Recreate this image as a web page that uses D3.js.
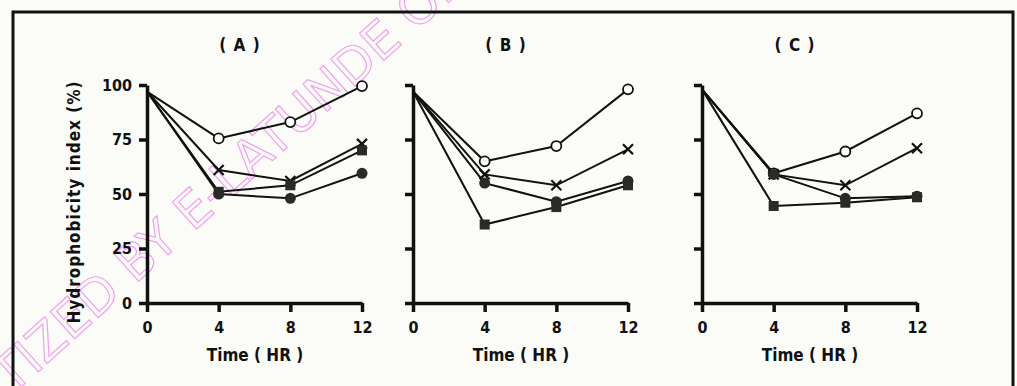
<!DOCTYPE html>
<html>
<head>
<meta charset="utf-8">
<script src="https://cdn.jsdelivr.net/npm/d3@7"></script>
<style>
  body { margin: 0; background: #fbfbf8; }
  text { font-family: "DejaVu Sans Condensed", "DejaVu Sans", sans-serif; font-weight: bold; fill: #111; }
</style>
</head>
<body>
<div id="chart"></div>
<script>
// time points (hours)
const times = [0, 4, 8, 12];
const panels = ["( A )", "( B )", "( C )"];
const yTicks = [0, 25, 50, 75, 100];

// hydrophobicity index (%) per panel
const openCircle = [
  [97, 75.5, 83, 99.5],
  [97, 65, 72, 98],
  [98, 59.5, 69.5, 87]
];
const crossMark = [
  [97, 61, 56, 73],
  [97, 59, 54, 70.5],
  [98, 59, 54, 71]
];
const filledSquare = [
  [97, 51, 54, 70],
  [97, 36, 44, 54],
  [98, 44.5, 46, 48.5]
];
const filledCircle = [
  [97, 50, 48, 59.5],
  [97, 55, 46.5, 56],
  [98, 59, 48, 49]
];

const width = 1017, height = 386;
const svg = d3.select("#chart").append("svg")
  .attr("width", width).attr("height", height);

// watermark
svg.append("text")
  .attr("transform", "translate(240,190) rotate(-42)")
  .attr("text-anchor", "middle")
  .style("font-family", "DejaVu Sans")
  .style("font-weight", "normal")
  .style("font-size", "50px")
  .style("fill", "none")
  .style("stroke", "#f2a0ee")
  .style("stroke-width", 1.2)
  .text("DIGITIZED BY E-LATUNDE ODEKU");

// frame
svg.append("rect")
  .attr("x", 13).attr("y", 12)
  .attr("width", 1000).attr("height", 400)
  .attr("fill", "none").attr("stroke", "#111").attr("stroke-width", 3);

const panelX = [147, 413, 702];
const plotW = 215;
const y = d3.scaleLinear().domain([0, 100]).range([303, 85]);

const series = [
  { data: openCircle, kind: "open" },
  { data: crossMark, kind: "cross" },
  { data: filledCircle, kind: "dot" },
  { data: filledSquare, kind: "square" }
];

panels.forEach((title, p) => {
  const x0 = panelX[p];
  const x = d3.scaleLinear().domain([0, 12]).range([x0, x0 + plotW]);
  const g = svg.append("g");

  g.append("text")
    .attr("x", x0 + 93).attr("y", 51)
    .attr("text-anchor", "middle")
    .style("font-size", "17px")
    .style("letter-spacing", "1px")
    .text(title);

  // axes
  const yAxis = d3.axisLeft(y).tickValues(yTicks).tickSize(8).tickSizeOuter(0)
    .tickFormat(p === 0 ? d3.format("d") : () => "");
  const ya = g.append("g").attr("transform", `translate(${x0},0)`).call(yAxis);
  const xAxis = d3.axisBottom(x).tickValues(times).tickSize(9).tickSizeOuter(0).tickPadding(10);
  const xa = g.append("g").attr("transform", `translate(0,${y(0)})`).call(xAxis);
  [ya, xa].forEach(a => {
    a.select(".domain").attr("stroke", "#111").attr("stroke-width", 3.5);
    a.selectAll(".tick line").attr("stroke", "#111").attr("stroke-width", 3.5);
    a.selectAll(".tick text").style("font-size", "16px").attr("fill", "#111")
      .style("font-family", "DejaVu Sans Condensed").style("font-weight", "bold");
  });
  ya.selectAll(".tick text").attr("dx", "-4");

  g.append("text")
    .attr("x", x0 + 108).attr("y", 361)
    .attr("text-anchor", "middle")
    .style("font-size", "17px")
    .text("Time  ( HR )");

  const line = d3.line().x((d, i) => x(times[i])).y(d => y(d));

  series.forEach(s => {
    const vals = s.data[p];
    g.append("path").attr("d", line(vals))
      .attr("fill", "none").attr("stroke", "#111").attr("stroke-width", 2);
  });

  series.forEach(s => {
    const vals = s.data[p];
    vals.forEach((v, i) => {
      if (i === 0) return;
      const cx = x(times[i]), cy = y(v);
      if (s.kind === "open") {
        g.append("circle").attr("cx", cx).attr("cy", cy).attr("r", 5)
          .attr("fill", "#fff").attr("stroke", "#111").attr("stroke-width", 1.8);
      } else if (s.kind === "dot") {
        g.append("circle").attr("cx", cx).attr("cy", cy).attr("r", 5.5)
          .attr("fill", "#2a2a2a");
      } else if (s.kind === "square") {
        g.append("rect").attr("x", cx - 5).attr("y", cy - 5)
          .attr("width", 10).attr("height", 10).attr("fill", "#2a2a2a");
      } else {
        g.append("path")
          .attr("d", `M${cx - 5},${cy - 5}L${cx + 5},${cy + 5}M${cx + 5},${cy - 5}L${cx - 5},${cy + 5}`)
          .attr("stroke", "#111").attr("stroke-width", 2.2);
      }
    });
  });
});

// y axis title
svg.append("text")
  .attr("transform", "translate(80,202) rotate(-90)")
  .attr("text-anchor", "middle")
  .style("font-size", "17px")
  .style("letter-spacing", "1px")
  .text("Hydrophobicity  index (%)");
</script>
</body>
</html>
